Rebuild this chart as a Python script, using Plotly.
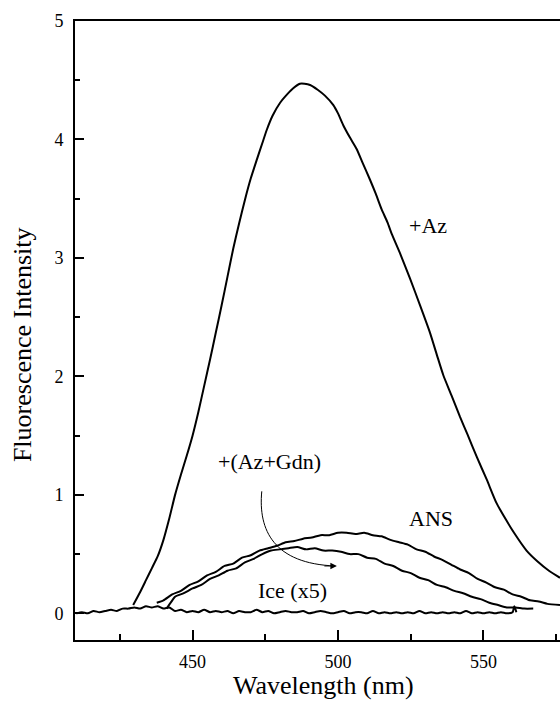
import plotly.graph_objects as go

# ---------------- data ----------------
az_x = [429.6, 432.0, 434.0, 436.0, 438.0, 440.0, 442.0, 444.0, 446.0, 448.0, 450.0,
        452.0, 454.0, 456.0, 458.0, 460.0, 462.0, 464.0, 466.0, 468.0, 470.0, 472.1,
        474.0, 475.5, 477.5, 480.1, 482.5, 484.5, 486.9, 488.5, 490.4, 493.0, 495.5,
        498.4, 500.0, 501.8, 504.0, 506.4, 508.5, 511.0, 513.0, 515.0, 517.0, 518.5,
        521.3, 524.7, 528.2, 531.6, 534.0, 536.2, 539.0, 541.9, 544.5, 547.7, 551.1,
        554.5, 557.5, 560.5, 564.8, 568.5, 572.5, 576.3]
az_y = [0.07, 0.18, 0.28, 0.38, 0.48, 0.62, 0.80, 1.00, 1.17, 1.33, 1.50,
        1.70, 1.92, 2.14, 2.37, 2.60, 2.84, 3.08, 3.29, 3.49, 3.67, 3.83,
        3.97, 4.08, 4.20, 4.31, 4.38, 4.43, 4.47, 4.47, 4.46, 4.42, 4.37,
        4.29, 4.22, 4.12, 4.02, 3.92, 3.80, 3.66, 3.54, 3.41, 3.30, 3.20,
        3.04, 2.83, 2.60, 2.37, 2.18, 2.01, 1.84, 1.66, 1.51, 1.32, 1.13,
        0.93, 0.80, 0.68, 0.53, 0.44, 0.36, 0.30]

ans_x = [437.7, 440, 443, 446, 449, 452, 455, 458, 461, 464, 467, 470, 473, 476,
         479, 482, 485, 488, 491, 494, 497, 500, 503, 506, 509, 512, 515, 518,
         521, 524, 527, 530, 533, 536, 539, 542, 545, 548, 551, 554, 557, 560,
         563, 566, 569, 572, 576.3]
ans_y = [0.09, 0.11, 0.16, 0.19, 0.24, 0.27, 0.32, 0.35, 0.40, 0.42, 0.47, 0.49, 0.53, 0.55,
         0.57, 0.60, 0.61, 0.63, 0.64, 0.66, 0.66, 0.68, 0.68, 0.67, 0.68, 0.66, 0.65, 0.62,
         0.60, 0.58, 0.54, 0.52, 0.48, 0.45, 0.41, 0.37, 0.34, 0.29, 0.26, 0.22, 0.20, 0.16,
         0.14, 0.11, 0.10, 0.08, 0.07]

gdn_x = [441.1, 442.5, 444, 447, 450, 453, 456, 459, 462, 465, 468, 471, 474, 477,
         480, 483, 486, 489, 492, 495, 498, 501, 504, 507, 510, 513, 516, 519,
         522, 525, 528, 531, 534, 537, 540, 543, 546, 549, 552, 555, 558, 561,
         564, 567.1]
gdn_y = [0.04, 0.09, 0.14, 0.17, 0.21, 0.24, 0.29, 0.32, 0.36, 0.38, 0.43, 0.46, 0.50, 0.53,
         0.54, 0.55, 0.56, 0.54, 0.55, 0.53, 0.53, 0.52, 0.50, 0.50, 0.47, 0.46, 0.42, 0.40,
         0.36, 0.34, 0.30, 0.28, 0.24, 0.22, 0.19, 0.17, 0.14, 0.12, 0.09, 0.07, 0.05, 0.05,
         0.04, 0.04]

ice_x = [410, 412, 414, 416, 418, 420, 422, 424, 426, 428, 430, 432, 434, 436, 438,
         440, 442, 444, 446, 448, 450, 452, 454, 456, 458, 460, 462, 464, 466, 468,
         470, 472, 474, 476, 478, 480, 482, 484, 486, 488, 490, 492, 494, 496, 498,
         500, 502, 504, 506, 508, 510, 512, 514, 516, 518, 520, 522, 524, 526, 528,
         530, 532, 534, 536, 538, 540, 542, 544, 546, 548, 550, 552, 554, 556, 558,
         560, 560.6, 561.3]
ice_y = [0.00, 0.01, 0.00, 0.02, 0.01, 0.02, 0.03, 0.02, 0.04, 0.04, 0.05, 0.04, 0.06, 0.05, 0.06,
         0.04, 0.05, 0.02, 0.03, 0.01, 0.02, 0.01, 0.03, 0.01, 0.02, 0.01, 0.02, 0.00, 0.02, 0.01,
         0.01, 0.03, 0.01, 0.02, 0.00, 0.01, 0.02, 0.01, 0.01, 0.02, 0.00, 0.01, 0.02, 0.01, 0.00,
         0.01, 0.02, 0.00, 0.01, 0.01, 0.00, 0.02, 0.00, 0.01, 0.00, 0.01, 0.00, 0.01, 0.00, 0.02,
         0.00, 0.01, 0.00, 0.01, 0.00, 0.01, 0.00, 0.02, 0.00, 0.01, 0.00, 0.01, 0.00, 0.01, 0.00,
         0.01, 0.06, 0.01]

x_ticks = [450, 500, 550]
y_ticks = [0, 1, 2, 3, 4, 5]

labels = ["+Az", "ANS", "+(Az+Gdn)", "Ice (x5)"]
label_x = [530.9, 531.8, 476.6, 484.4]
label_y = [3.27, 0.80, 1.285, 0.197]

FONT = "Liberation Serif, Times New Roman, serif"

fig = go.Figure()
for xs, ys in [(az_x, az_y), (ans_x, ans_y), (gdn_x, gdn_y), (ice_x, ice_y)]:
    fig.add_trace(go.Scatter(x=xs, y=ys, mode="lines",
                             line=dict(color="black", width=2, shape="spline",
                                       smoothing=0.6),
                             showlegend=False, hoverinfo="skip"))

for t, lx, ly in zip(labels, label_x, label_y):
    fig.add_annotation(x=lx, y=ly, text=t, showarrow=False,
                       font=dict(family=FONT, size=22, color="black"),
                       xanchor="center", yanchor="middle")

# curved arrow from the +(Az+Gdn) label
fig.add_shape(type="path", xref="x", yref="y",
              path="M 473.8,1.03 C 472.5,0.70 478,0.42 499.0,0.40",
              line=dict(color="black", width=1))
fig.add_annotation(x=499.6, y=0.40, ax=-14, ay=0, text="", showarrow=True,
                   arrowhead=2, arrowsize=1.3, arrowwidth=1, arrowcolor="black")

# axis titles
fig.add_annotation(xref="paper", yref="paper", x=0.5134, y=-0.074,
                   text="Wavelength (nm)", showarrow=False,
                   font=dict(family=FONT, size=26, color="black"),
                   xanchor="center", yanchor="middle")
fig.add_annotation(xref="paper", yref="paper", x=-0.107, y=0.4766,
                   text="Fluorescence Intensity", showarrow=False, textangle=-90,
                   font=dict(family=FONT, size=26, color="black"),
                   xanchor="center", yanchor="middle")

fig.update_layout(
    width=560, height=707,
    margin=dict(l=75, r=0, t=21, b=67),
    paper_bgcolor="white", plot_bgcolor="white",
    font=dict(family=FONT, color="black"),
    xaxis=dict(range=[409.6, 576.3], tickvals=x_ticks, ticks="inside", ticklen=10,
               tickwidth=1.5, tickcolor="black", showline=True, linecolor="black",
               linewidth=2, mirror=True, showgrid=False, zeroline=False,
               tickfont=dict(family=FONT, size=18, color="black"),
               ticklabelstandoff=4,
               minor=dict(dtick=25, tick0=425, ticks="inside", ticklen=6,
                          tickcolor="black", tickwidth=1.5, showgrid=False)),
    yaxis=dict(range=[-0.225, 5.0], tickvals=y_ticks, ticks="inside", ticklen=9,
               tickwidth=1.5, tickcolor="black", showline=True, linecolor="black",
               linewidth=2, mirror=False, showgrid=False, zeroline=False,
               tickfont=dict(family=FONT, size=18, color="black"),
               ticklabelstandoff=6,
               minor=dict(dtick=0.5, tick0=0.5, ticks="inside", ticklen=5,
                          tickcolor="black", tickwidth=1.5, showgrid=False)),
)

fig.write_html("out.html")
